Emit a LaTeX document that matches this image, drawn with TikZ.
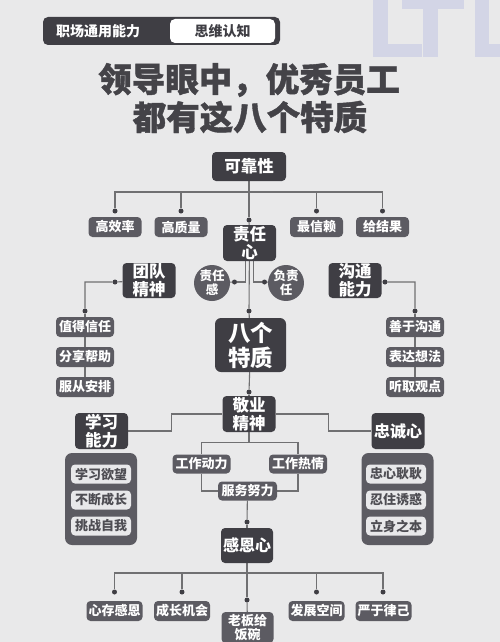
\documentclass[tikz,border=0pt]{standalone}
\usepackage{fontspec}
\newfontfamily\cjk{Noto Sans CJK SC}
\newfontfamily\cjkheavy[FakeBold=1.2]{Noto Sans CJK SC}
\pgfdeclarelayer{bg}
\pgfdeclarelayer{lines}
\pgfsetlayers{bg,lines,main}
\definecolor{pagebg}{HTML}{E9E9EA}
\definecolor{dk}{HTML}{3F3E44}
\definecolor{md}{HTML}{5C5B62}
\definecolor{lt}{HTML}{E8E8EA}
\definecolor{linec}{HTML}{707072}
\definecolor{dotc}{HTML}{3F3E44}
\definecolor{lav}{HTML}{D3D5E6}
\definecolor{titlec}{HTML}{444348}
\definecolor{intext}{HTML}{4E4D53}
\begin{document}
\begin{tikzpicture}[x=1pt,y=-1pt,
  bx/.style={rounded corners=4pt, inner sep=0pt, align=center, text=white},
  mainbox/.style={bx, fill=dk, minimum width=53pt, minimum height=36pt, font=\cjk\bfseries\fontsize{16.5}{18}\selectfont},
  subbox/.style={bx, fill=md, minimum width=53pt, minimum height=20pt, font=\cjk\bfseries\fontsize{13}{14}\selectfont},
  listbox/.style={subbox, minimum width=58pt},
  circbox/.style={circle, fill=md, text=white, inner sep=0pt, minimum size=36pt, align=center, font=\cjk\bfseries\fontsize{12.5}{14}\selectfont},
  panelbox/.style={rounded corners=7pt, fill=md, minimum width=72pt, minimum height=92pt, inner sep=0pt},
  inbox/.style={rounded corners=4pt, fill=lt, text=intext, minimum width=60pt, minimum height=19pt, inner sep=0pt, font=\cjk\bfseries\fontsize{13}{14}\selectfont},
  dotn/.style={circle, fill=dotc, inner sep=0pt, minimum size=5pt},
  conn/.style={draw=linec, line width=1.1pt}
]
\begin{pgfonlayer}{bg}
\fill[pagebg] (0,0) rectangle (500,642);
% LTL decoration
\fill[lav] (373,0) rectangle (388,57);
\fill[lav] (373,44) rectangle (422,57);
\fill[lav] (402,0) rectangle (464,9);
\fill[lav] (423,0) rectangle (438,57);
\fill[lav] (475,0) rectangle (489,57);
\fill[lav] (475,44) rectangle (500,57);
\end{pgfonlayer}
\useasboundingbox (0,0) rectangle (500,642);

% header
\node[rounded corners=5pt, fill=dk, minimum width=237pt, minimum height=28pt, inner sep=0pt] (hdr) at (161.5,31) {};
\node[text=white, font=\cjk\bfseries\fontsize{14}{16}\selectfont] (h1) at (98,31) {职场通用能力};
\node[rounded corners=5pt, fill=white, minimum width=105pt, minimum height=24pt, inner sep=0pt, text=dk, font=\cjk\bfseries\fontsize{14}{16}\selectfont] (h2) at (222.5,31) {思维认知};

% title
\node[text=titlec, font=\cjkheavy\bfseries\fontsize{33.5}{38}\selectfont] (t1) at (249,80) {领导眼中，优秀员工};
\node[text=titlec, font=\cjkheavy\bfseries\fontsize{33.5}{38}\selectfont] (t2) at (250,117) {都有这八个特质};

% top tree
\node[mainbox, minimum width=74pt, minimum height=29pt] (kks) at (249,166.5) {可靠性};
\node[subbox] (a1) at (115,227) {高效率};
\node[subbox] (a2) at (181,227) {高质量};
\node[subbox] (a3) at (316.5,227) {最信赖};
\node[subbox] (a4) at (382.5,227) {给结果};
\node[dotn] (d1) at (115,211) {};
\node[dotn] (d2) at (181,211) {};
\node[dotn] (d3) at (316.5,211) {};
\node[dotn] (d4) at (382.5,211) {};
\node[dotn] (dc) at (249,220) {};
\node[mainbox] (zrx) at (249.5,243) {责任\\心};

\node[circbox] (c1) at (212,283) {责任\\感};
\node[circbox, minimum size=35pt] (c2) at (286,283) {负责\\任};
\node[dotn] (dl) at (234.5,282) {};
\node[dotn] (dr) at (264.5,282) {};

\node[mainbox, minimum height=35pt] (td) at (149,280.5) {团队\\精神};
\node[mainbox, minimum height=35pt] (gt) at (355,280.5) {沟通\\能力};
\node[dotn] (dtd) at (115,282) {};
\node[dotn] (dgt) at (385,282) {};
\node[dotn] (dL) at (85,311) {};
\node[dotn] (dR) at (415,311) {};

\node[listbox] (L1) at (85,327) {值得信任};
\node[listbox] (L2) at (85,357) {分享帮助};
\node[listbox] (L3) at (85,387) {服从安排};
\node[listbox] (R1) at (415,327) {善于沟通};
\node[listbox] (R2) at (415,357) {表达想法};
\node[listbox] (R3) at (415,387) {听取观点};

\node[dotn] (dm) at (249,311) {};
\node[mainbox, minimum width=71pt, minimum height=54pt, rounded corners=6pt, font=\cjk\bfseries\fontsize{22.5}{25}\selectfont] (bg) at (250.5,345) {八个\\特质};
\node[dotn] (dm2) at (249,392) {};

% middle
\node[mainbox] (jy) at (249,414) {敬业\\精神};
\node[mainbox] (xx) at (101.5,431) {学习\\能力};
\node[mainbox, font=\cjk\bfseries\fontsize{16}{18}\selectfont] (zc) at (398,431) {忠诚心};

\node[listbox, minimum height=19pt] (g1) at (201.5,464) {工作动力};
\node[listbox, minimum height=19pt] (g2) at (298,464) {工作热情};
\node[listbox, minimum width=59pt, minimum height=19pt] (g3) at (247.5,491) {服务努力};

\node[panelbox] (pl) at (101,499) {};
\node[inbox] (p1) at (101,474) {学习欲望};
\node[inbox] (p2) at (101,500) {不断成长};
\node[inbox] (p3) at (101,526) {挑战自我};
\node[panelbox] (pr) at (397.5,499) {};
\node[inbox] (q1) at (396,474) {忠心耿耿};
\node[inbox] (q2) at (396,500) {忍住诱惑};
\node[inbox] (q3) at (396,526) {立身之本};

\node[dotn] (dg) at (247,522) {};
\node[mainbox, minimum width=52pt, minimum height=35pt, font=\cjk\bfseries\fontsize{16}{18}\selectfont] (gen) at (247,545.5) {感恩心};

% bottom
\node[dotn] (b1) at (114.5,592) {};
\node[dotn] (b2) at (182,592) {};
\node[dotn] (b0) at (247,600) {};
\node[dotn] (b3) at (316.5,592) {};
\node[dotn] (b4) at (383,592) {};
\node[listbox, minimum width=56pt] (e1) at (114.5,611) {心存感恩};
\node[listbox, minimum width=56pt] (e2) at (182,611) {成长机会};
\node[subbox, minimum width=52pt, minimum height=31pt] (e0) at (247.5,627.5) {老板给\\饭碗};
\node[listbox, minimum width=56pt] (e3) at (316.5,611) {发展空间};
\node[listbox, minimum width=56pt] (e4) at (383.5,611) {严于律己};

% connectors
\begin{pgfonlayer}{lines}
\draw[conn] (kks) -- (dc);
\draw[conn] (d1) -- ++(0,-19) -| (d4);
\draw[conn] (d2) -- ++(0,-19);
\draw[conn] (d3) -- ++(0,-19);
\draw[conn] (dc) -- (zrx);
\draw[conn] ([xshift=-4pt]zrx.south) |- (dl);
\draw[conn] ([xshift=4pt]zrx.south) |- (dr);
\draw[conn] (dl) -- (c1);
\draw[conn] (dr) -- (c2);
\draw[conn] (zrx) -- (dm);
\draw[conn] (dm) -- (bg);
\draw[conn] (bg) -- (dm2);
\draw[conn] (dm2) -- (jy);
\draw[conn] (td) -- (dtd) -| (dL);
\draw[conn] (gt) -- (dgt) -| (dR);
\draw[conn] (dL) -- (L1) -- (L2) -- (L3);
\draw[conn] (dR) -- (R1) -- (R2) -- (R3);
\draw[conn] (xx.east) -- ++(43,0) |- (jy.west);
\draw[conn] (jy.east) -- ++(53,0) |- (zc.west);
\draw[conn] (jy.south) -- ++(0,10) coordinate (jb);
\draw[conn] (g1.north) |- (jb) -| (g2.north);
\draw[conn] (g1.south) |- (g3.west);
\draw[conn] (g2.south) |- (g3.east);
\draw[conn] (g3) -- (dg);
\draw[conn] (dg) -- (gen);
\draw[conn] (gen) -- (b0);
\draw[conn] (b1) -- ++(0,-19) -| (b4);
\draw[conn] (b2) -- ++(0,-19);
\draw[conn] (b3) -- ++(0,-19);
\draw[conn] (b0) -- (e0);
\end{pgfonlayer}
\end{tikzpicture}
\end{document}
